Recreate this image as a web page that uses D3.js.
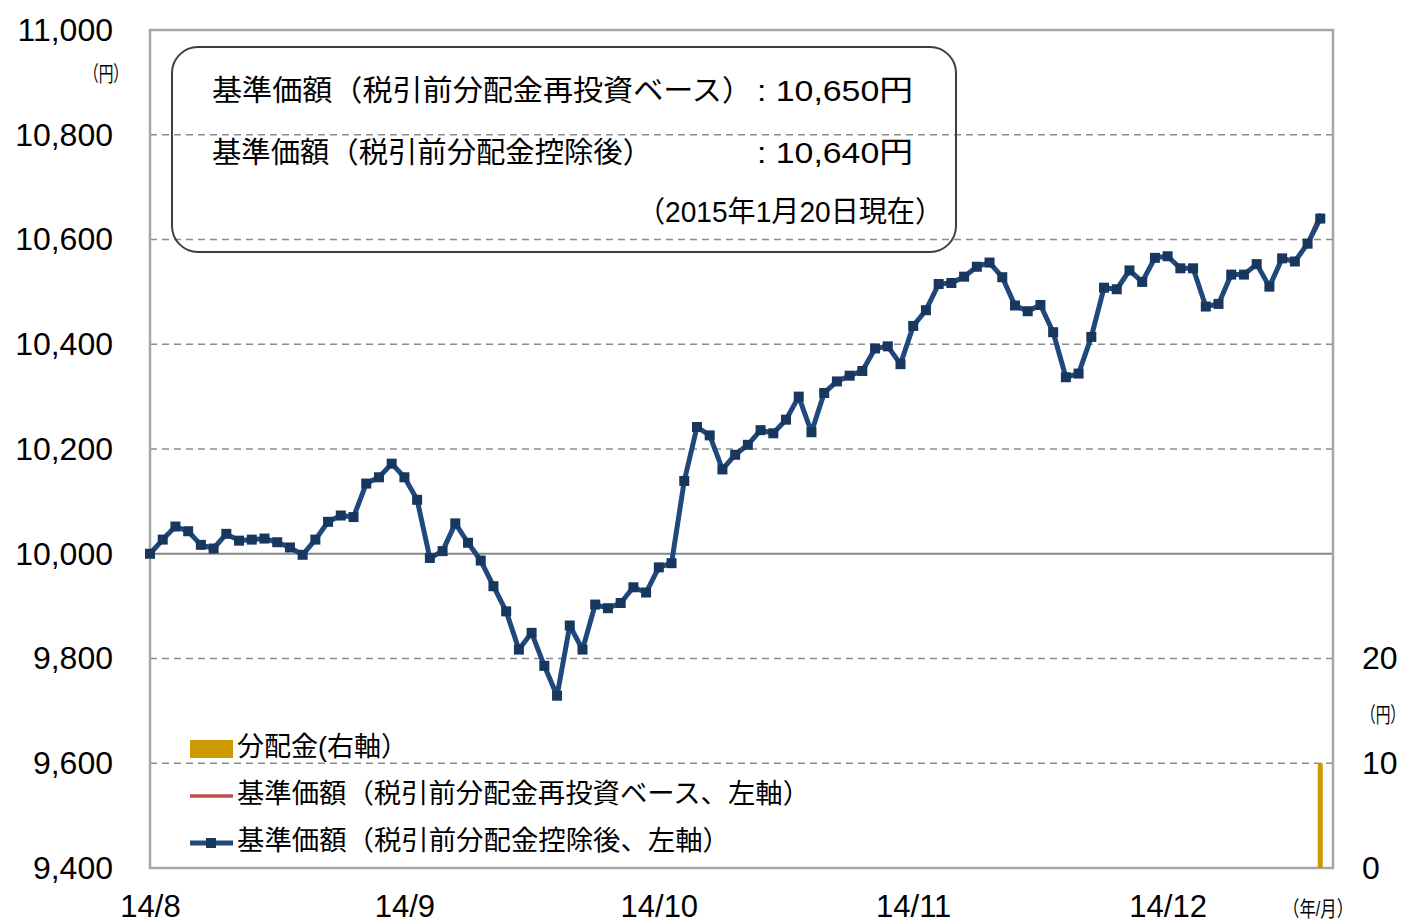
<!DOCTYPE html>
<html>
<head>
<meta charset="utf-8">
<script src="https://cdn.jsdelivr.net/npm/d3@7"></script>
<style>
body { margin: 0; background: #fff; }
svg { display: block; }
text { font-family: "Liberation Sans", Arial, "Noto Sans CJK JP", sans-serif; fill: #000; }
</style>
</head>
<body>
<svg id="mainSvg" width="1406" height="923"></svg>
<script>
// 基準価額（税引前分配金控除後）
var navAfter = [10000, 10027, 10052, 10043, 10017, 10010, 10038, 10025, 10027, 10029,
	10022, 10012, 9998, 10027, 10061, 10073, 10070, 10134, 10146, 10172,
	10146, 10103, 9992, 10005, 10058, 10021, 9987, 9938, 9890, 9817,
	9849, 9786, 9729, 9863, 9817, 9903, 9896, 9906, 9936, 9926,
	9974, 9982, 10139, 10242, 10226, 10161, 10189, 10208, 10236, 10230,
	10256, 10300, 10232, 10307, 10329, 10340, 10349, 10392, 10396, 10362,
	10435, 10465, 10515, 10517, 10529, 10548, 10556, 10528, 10474, 10463,
	10475, 10423, 10337, 10344, 10414, 10508, 10505, 10541, 10519, 10565,
	10568, 10545, 10545, 10472, 10477, 10533, 10533, 10553, 10510, 10564,
	10558, 10592, 10640];
// 基準価額（税引前分配金再投資ベース）
var navReinvest = [10000, 10027, 10052, 10043, 10017, 10010, 10038, 10025, 10027, 10029,
	10022, 10012, 9998, 10027, 10061, 10073, 10070, 10134, 10146, 10172,
	10146, 10103, 9992, 10005, 10058, 10021, 9987, 9938, 9890, 9817,
	9849, 9786, 9729, 9863, 9817, 9903, 9896, 9906, 9936, 9926,
	9974, 9982, 10139, 10242, 10226, 10161, 10189, 10208, 10236, 10230,
	10256, 10300, 10232, 10307, 10329, 10340, 10349, 10392, 10396, 10362,
	10435, 10465, 10515, 10517, 10529, 10548, 10556, 10528, 10474, 10463,
	10475, 10423, 10337, 10344, 10414, 10508, 10505, 10541, 10519, 10565,
	10568, 10545, 10545, 10472, 10477, 10533, 10533, 10553, 10510, 10564,
	10558, 10592, 10650];
// 分配金
var distIndex = [92];
var distValue = [10];

var monthLabels = ["14/8", "14/9", "14/10", "14/11", "14/12"];
var monthIndex = [0, 20, 40, 60, 80];
var leftTicks = [9400, 9600, 9800, 10000, 10200, 10400, 10600, 10800, 11000];
var rightTicks = [0, 10, 20];

var svg = d3.select("#mainSvg");
var plotL = 150, plotR = 1333, plotT = 30, plotB = 868;

var x = d3.scaleLinear().domain([0, 93]).range([plotL, plotR]);
var y = d3.scaleLinear().domain([9400, 11000]).range([plotB, plotT]);
var y2 = d3.scaleLinear().domain([0, 80]).range([plotB, plotT]);

// grid lines
svg.append("g").selectAll("line")
	.data(leftTicks.filter(function(d) { return d != 9400 && d != 11000; }))
	.enter().append("line")
	.attr("x1", plotL).attr("x2", plotR)
	.attr("y1", function(d) { return y(d); })
	.attr("y2", function(d) { return y(d); })
	.attr("stroke", function(d) { return d == 10000 ? "#868686" : "#8c8c8c"; })
	.attr("stroke-width", function(d) { return d == 10000 ? 2 : 1.3; })
	.attr("stroke-dasharray", function(d) { return d == 10000 ? null : "7,5"; });

// plot border
svg.append("rect")
	.attr("x", plotL).attr("y", plotT)
	.attr("width", plotR - plotL).attr("height", plotB - plotT)
	.attr("fill", "none").attr("stroke", "#a6a6a6").attr("stroke-width", 2.5);

// left axis
var leftAxis = d3.axisLeft(y).tickValues(leftTicks).tickSize(0).tickPadding(37)
	.tickFormat(d3.format(","));
var gl = svg.append("g").attr("transform", "translate(" + plotL + ",0)").call(leftAxis);
gl.select(".domain").remove();
gl.selectAll("text").attr("font-size", 32).attr("font-family", "Liberation Sans, Arial");

// right axis
var rightAxis = d3.axisRight(y2).tickValues(rightTicks).tickSize(0).tickPadding(29);
var gr = svg.append("g").attr("transform", "translate(" + plotR + ",0)").call(rightAxis);
gr.select(".domain").remove();
gr.selectAll("text").attr("font-size", 32).attr("font-family", "Liberation Sans, Arial");

// bottom axis
var bottomAxis = d3.axisBottom(x).tickValues(monthIndex).tickSize(0).tickPadding(27)
	.tickFormat(function(d, i) { return monthLabels[i]; });
var gb = svg.append("g").attr("transform", "translate(0," + plotB + ")").call(bottomAxis);
gb.select(".domain").remove();
gb.selectAll("text").attr("font-size", 31).attr("font-family", "Liberation Sans, Arial");

// unit labels (narrow, squeezed horizontally)
var units = [
	{t: "（円）", x: 84, y: 81, sx: 0.7},
	{t: "（円）", x: 1361, y: 722, sx: 0.7},
	{t: "（年/月）", x: 1283, y: 916, sx: 0.78}
];
svg.append("g").selectAll("text").data(units).enter().append("text")
	.attr("transform", function(d) { return "translate(" + d.x + "," + d.y + ") scale(" + d.sx + ",1)"; })
	.attr("font-size", 21)
	.text(function(d) { return d.t; });

// distribution bars
svg.append("g").selectAll("rect")
	.data(distIndex).enter().append("rect")
	.attr("x", function(d) { return x(d) - 2.5; })
	.attr("width", 5)
	.attr("y", function(d, i) { return y2(distValue[i]); })
	.attr("height", function(d, i) { return y2(0) - y2(distValue[i]); })
	.attr("fill", "#cc9900");

var line = d3.line()
	.x(function(d, i) { return x(i); })
	.y(function(d) { return y(d); });

svg.append("path").datum(navReinvest)
	.attr("d", line).attr("fill", "none")
	.attr("stroke", "#c0504d").attr("stroke-width", 3.5);

svg.append("path").datum(navAfter)
	.attr("d", line).attr("fill", "none")
	.attr("stroke", "#1f497d").attr("stroke-width", 5).attr("stroke-linejoin", "round");

svg.append("g").selectAll("rect")
	.data(navAfter).enter().append("rect")
	.attr("x", function(d, i) { return x(i) - 5; })
	.attr("y", function(d) { return y(d) - 5; })
	.attr("width", 10).attr("height", 10)
	.attr("fill", "#17375e");

// info box
svg.append("rect")
	.attr("x", 172).attr("y", 47).attr("width", 784).attr("height", 205)
	.attr("rx", 26).attr("ry", 26)
	.attr("fill", "none").attr("stroke", "#3f3f3f").attr("stroke-width", 2);

var info = [
	{t: "基準価額（税引前分配金再投資ベース）", x: 212, y: 101, w: 540},
	{t: ": 10,650円", x: 757, y: 101, w: 156},
	{t: "基準価額（税引前分配金控除後）", x: 212, y: 163, w: 440},
	{t: ": 10,640円", x: 757, y: 163, w: 156},
	{t: "（2015年1月20日現在）", x: 637, y: 222, w: 306}
];
svg.append("g").selectAll("text")
	.data(info).enter().append("text")
	.attr("x", function(d) { return d.x; })
	.attr("y", function(d) { return d.y; })
	.attr("font-size", 29)
	.attr("textLength", function(d) { return d.w; })
	.attr("lengthAdjust", "spacingAndGlyphs")
	.text(function(d) { return d.t; });

// legend
var legend = [
	{t: "分配金(右軸）", w: 171},
	{t: "基準価額（税引前分配金再投資ベース、左軸）", w: 573},
	{t: "基準価額（税引前分配金控除後、左軸）", w: 493}
];
var lg = svg.append("g");
lg.selectAll("text").data(legend).enter().append("text")
	.attr("x", 237)
	.attr("y", function(d, i) { return 756 + i * 47; })
	.attr("font-size", 27)
	.attr("textLength", function(d) { return d.w; })
	.attr("lengthAdjust", "spacingAndGlyphs")
	.text(function(d) { return d.t; });
lg.append("rect").attr("x", 190).attr("y", 740).attr("width", 43).attr("height", 18)
	.attr("fill", "#cc9900");
lg.append("line").attr("x1", 190).attr("x2", 233).attr("y1", 796).attr("y2", 796)
	.attr("stroke", "#c0504d").attr("stroke-width", 3.5);
lg.append("line").attr("x1", 190).attr("x2", 233).attr("y1", 843).attr("y2", 843)
	.attr("stroke", "#1f497d").attr("stroke-width", 5);
lg.append("rect").attr("x", 206).attr("y", 838).attr("width", 10).attr("height", 10)
	.attr("fill", "#17375e");
</script>
</body>
</html>
